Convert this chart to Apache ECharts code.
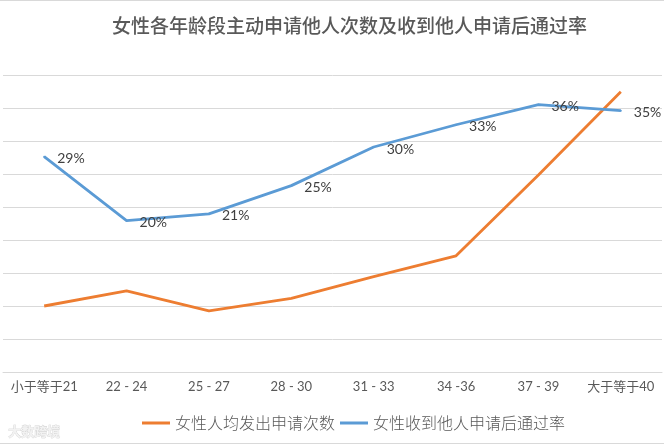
<!DOCTYPE html>
<html>
<head>
<meta charset="utf-8">
<script src="https://cdn.jsdelivr.net/npm/echarts@6/dist/echarts.min.js"></script>
<style>
html,body{margin:0;padding:0;background:#fff;}
#chart{width:664px;height:445px;}
</style>
</head>
<body>
<div id="chart"></div>
<script>
var categories = ['小于等于21', '22 - 24', '25 - 27', '28 - 30', '31 - 33', '34 -36', '37 - 39', '大于等于40'];
var applyCounts = [2.0, 2.46, 1.85, 2.23, 2.89, 3.52, 5.97, 8.49];
var passRates = [0.290, 0.204, 0.213, 0.251, 0.303, 0.333, 0.360, 0.352];
var seriesNames = ['女性人均发出申请次数', '女性收到他人申请后通过率'];
var titleText = '女性各年龄段主动申请他人次数及收到他人申请后通过率';

var chart = echarts.init(document.getElementById('chart'));
chart.setOption({
  animation: false,
  backgroundColor: '#fff',
  title: {
    text: titleText,
    left: 107,
    top: 11,
    textStyle: {
      fontFamily: '"Noto Sans CJK SC"',
      fontSize: 19,
      fontWeight: 500,
      color: '#595959'
    }
  },
  legend: {
    left: 137,
    top: 410,
    icon: 'rect',
    itemWidth: 28,
    itemHeight: 3,
    itemGap: 5,
    textStyle: {
      fontFamily: '"Noto Sans CJK SC"',
      fontSize: 16,
      fontWeight: 300,
      color: '#595959'
    },
    data: seriesNames
  },
  grid: {
    left: 3,
    right: 2,
    top: 75,
    bottom: 73,
    containLabel: false
  },
  xAxis: {
    type: 'category',
    data: categories,
    boundaryGap: true,
    axisLine: { show: true, lineStyle: { color: '#d9d9d9', width: 1 } },
    axisTick: { show: false },
    axisLabel: {
      margin: 8,
      interval: 0,
      fontFamily: 'Lato, "Noto Sans CJK SC"',
      fontSize: 13,
      color: '#595959'
    }
  },
  yAxis: [
    {
      type: 'value',
      min: 0,
      max: 9,
      interval: 1,
      axisLine: { show: false },
      axisTick: { show: false },
      axisLabel: { show: false },
      splitLine: { show: true, lineStyle: { color: '#d9d9d9', width: 1 } }
    },
    {
      type: 'value',
      min: 0,
      max: 0.4,
      interval: 0.1,
      axisLine: { show: false },
      axisTick: { show: false },
      axisLabel: { show: false },
      splitLine: { show: false }
    }
  ],
  series: [
    {
      name: seriesNames[0],
      type: 'line',
      yAxisIndex: 0,
      data: applyCounts,
      symbol: 'none',
      color: '#ed7d31',
      lineStyle: { color: '#ed7d31', width: 2.8 }
    },
    {
      name: seriesNames[1],
      type: 'line',
      yAxisIndex: 1,
      data: passRates,
      symbol: 'circle',
      symbolSize: 2,
      showSymbol: true,
      color: '#5b9bd5',
      itemStyle: { color: '#5b9bd5' },
      lineStyle: { color: '#5b9bd5', width: 2.8 },
      label: {
        show: true,
        position: 'right',
        distance: 12,
        offset: [0, 2],
        fontFamily: 'Lato, "Liberation Sans"',
        fontSize: 14,
        color: '#404040',
        formatter: function (p) { return Math.round(p.value * 100) + '%'; }
      }
    }
  ],
  graphic: [
    { type: 'rect', shape: { x: 0, y: 0, width: 664, height: 1 }, style: { fill: '#d9d9d9' } },
    { type: 'rect', shape: { x: 0, y: 443, width: 664, height: 1 }, style: { fill: '#d9d9d9' } },
    { type: 'text', left: 8, top: 424, style: { text: '大数跨境', fontFamily: '"Noto Sans CJK SC"', fontSize: 13, fontWeight: 'bold', fill: '#f2f2f2', stroke: '#cccccc', lineWidth: 0.6 } }
  ]
});
</script>
</body>
</html>
